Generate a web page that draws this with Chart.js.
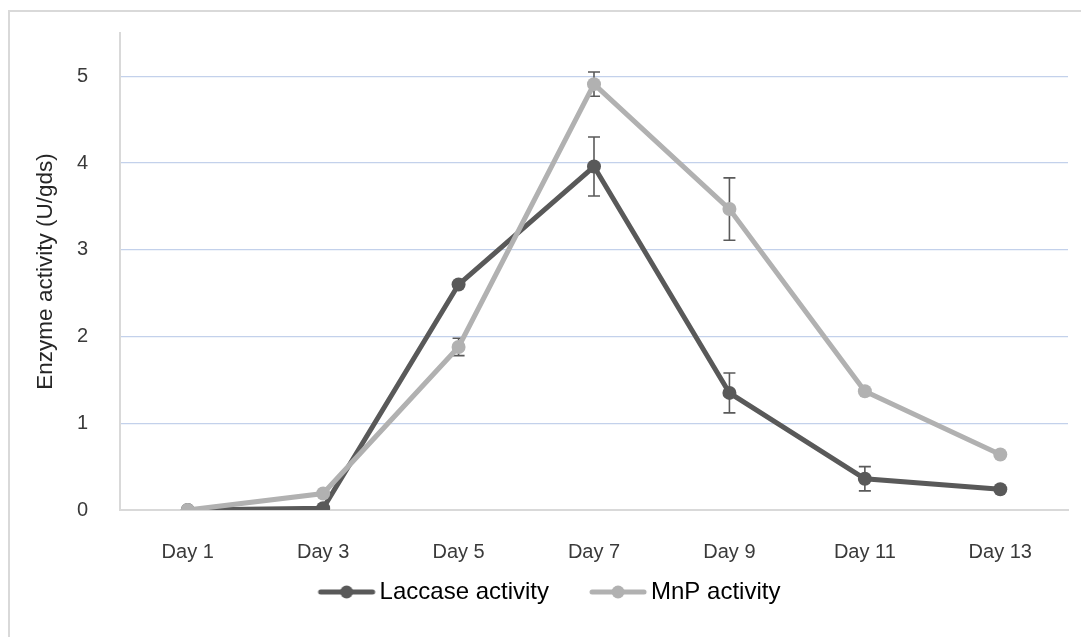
<!DOCTYPE html>
<html>
<head>
<meta charset="utf-8">
<script src="https://cdn.jsdelivr.net/npm/chart.js@4.4.0/dist/chart.umd.min.js"></script>
<style>
  html, body { margin: 0; padding: 0; background: #ffffff; }
  #wrap { position: relative; width: 1081px; height: 637px; overflow: hidden; }
  #frame { position: absolute; left: 8px; top: 10px; right: -10px; bottom: -10px;
           border-top: 2px solid #d9d9d9; border-left: 2px solid #d9d9d9; }
  #c { position: absolute; left: 0; top: 0; }
</style>
</head>
<body>
<div id="wrap">
  <div id="frame"></div>
  <canvas id="c" width="1081" height="637"></canvas>
</div>
<script>
// ---- data ----
const categories = ['Day 1', 'Day 3', 'Day 5', 'Day 7', 'Day 9', 'Day 11', 'Day 13'];
const laccase    = [0, 0.02, 2.60, 3.96, 1.35, 0.36, 0.24];
const laccaseErr = [0, 0, 0, 0.34, 0.23, 0.14, 0];
const mnp        = [0, 0.19, 1.88, 4.91, 3.47, 1.37, 0.64];
const mnpErr     = [0, 0, 0.10, 0.14, 0.36, 0, 0];
const yTickValues = [0, 1, 2, 3, 4, 5];
const yMax = 5.5;
const seriesNames = ['Laccase activity', 'MnP activity'];
const axisTitle = 'Enzyme activity (U/gds)';

const DARK = '#595959';
const LIGHT = '#b1b1b1';
const FONT = '"Liberation Sans", Arial, sans-serif';

function legendIcon(color) {
  const cv = document.createElement('canvas');
  cv.width = 160; cv.height = 16;
  const g = cv.getContext('2d');
  g.strokeStyle = color; g.lineWidth = 5; g.lineCap = 'round';
  g.beginPath(); g.moveTo(73, 8); g.lineTo(125, 8); g.stroke();
  g.fillStyle = color;
  g.beginPath(); g.arc(99, 8, 6.5, 0, Math.PI * 2); g.fill();
  return cv;
}
const icons = [legendIcon(DARK), legendIcon(LIGHT)];

const errorBars = {
  id: 'errorBars',
  beforeDatasetsDraw(chart) {
    const ctx = chart.ctx;
    const xs = chart.scales.x, ys = chart.scales.y;
    const sets = [[laccase, laccaseErr], [mnp, mnpErr]];
    ctx.save();
    ctx.strokeStyle = '#5a5a5a';
    ctx.lineWidth = 1.6;
    sets.forEach(([vals, errs]) => {
      vals.forEach((v, i) => {
        const e = errs[i];
        if (!e) return;
        const x = xs.getPixelForValue(i);
        const yt = ys.getPixelForValue(v + e);
        const yb = ys.getPixelForValue(v - e);
        ctx.beginPath();
        ctx.moveTo(x, yt); ctx.lineTo(x, yb);
        ctx.moveTo(x - 6, yt); ctx.lineTo(x + 6, yt);
        ctx.moveTo(x - 6, yb); ctx.lineTo(x + 6, yb);
        ctx.stroke();
      });
    });
    ctx.restore();
  }
};

new Chart(document.getElementById('c'), {
  type: 'line',
  data: {
    labels: categories,
    datasets: [
      { label: seriesNames[0], data: laccase, borderColor: DARK, backgroundColor: DARK,
        borderWidth: 5, pointRadius: 7, pointBorderWidth: 0, pointBackgroundColor: DARK,
        tension: 0, order: 1 },
      { label: seriesNames[1], data: mnp, borderColor: LIGHT, backgroundColor: LIGHT,
        borderWidth: 5, pointRadius: 7, pointBorderWidth: 0, pointBackgroundColor: LIGHT,
        tension: 0, order: 0 }
    ]
  },
  options: {
    responsive: false,
    animation: false,
    events: [],
    layout: { padding: { left: 0, right: 13, top: 33, bottom: 23 } },
    plugins: {
      tooltip: { enabled: false },
      legend: {
        position: 'bottom',
        labels: {
          usePointStyle: true,
          pointStyleWidth: 80,
          padding: 10,
          color: '#1f1f1f',
          font: { family: FONT, size: 24 },
          generateLabels(chart) {
            return chart.data.datasets.map((ds, i) => ({
              text: ds.label, pointStyle: icons[i], fillStyle: ds.borderColor,
              strokeStyle: ds.borderColor, lineWidth: 0, hidden: false, datasetIndex: i
            }));
          }
        }
      }
    },
    scales: {
      x: {
        offset: true,
        grid: { display: false, drawTicks: false },
        border: { display: true, color: '#d9d9d9', width: 2 },
        ticks: { color: '#3a3a3a', font: { family: FONT, size: 20 }, padding: 30, maxRotation: 0 },
        afterFit(scale) { scale.height = 60; }
      },
      y: {
        min: 0, max: yMax,
        afterBuildTicks(scale) { scale.ticks = yTickValues.map(v => ({ value: v })); },
        grid: {
          drawTicks: true,
          tickLength: 30,
          tickColor: 'rgba(0,0,0,0)',
          lineWidth: 1.3,
          color: (c) => (c.tick && c.tick.value === 0) ? 'rgba(0,0,0,0)' : '#c3d1eb'
        },
        border: { display: true, color: '#d9d9d9', width: 2 },
        ticks: { color: '#3a3a3a', font: { family: FONT, size: 20 }, padding: 2 },
        title: { display: true, text: axisTitle, color: '#262626',
                 font: { family: FONT, size: 22.5 }, padding: { top: 32, bottom: 0 } },
        afterFit(scale) { scale.width = 120; }
      }
    }
  },
  plugins: [errorBars]
});
</script>
</body>
</html>
